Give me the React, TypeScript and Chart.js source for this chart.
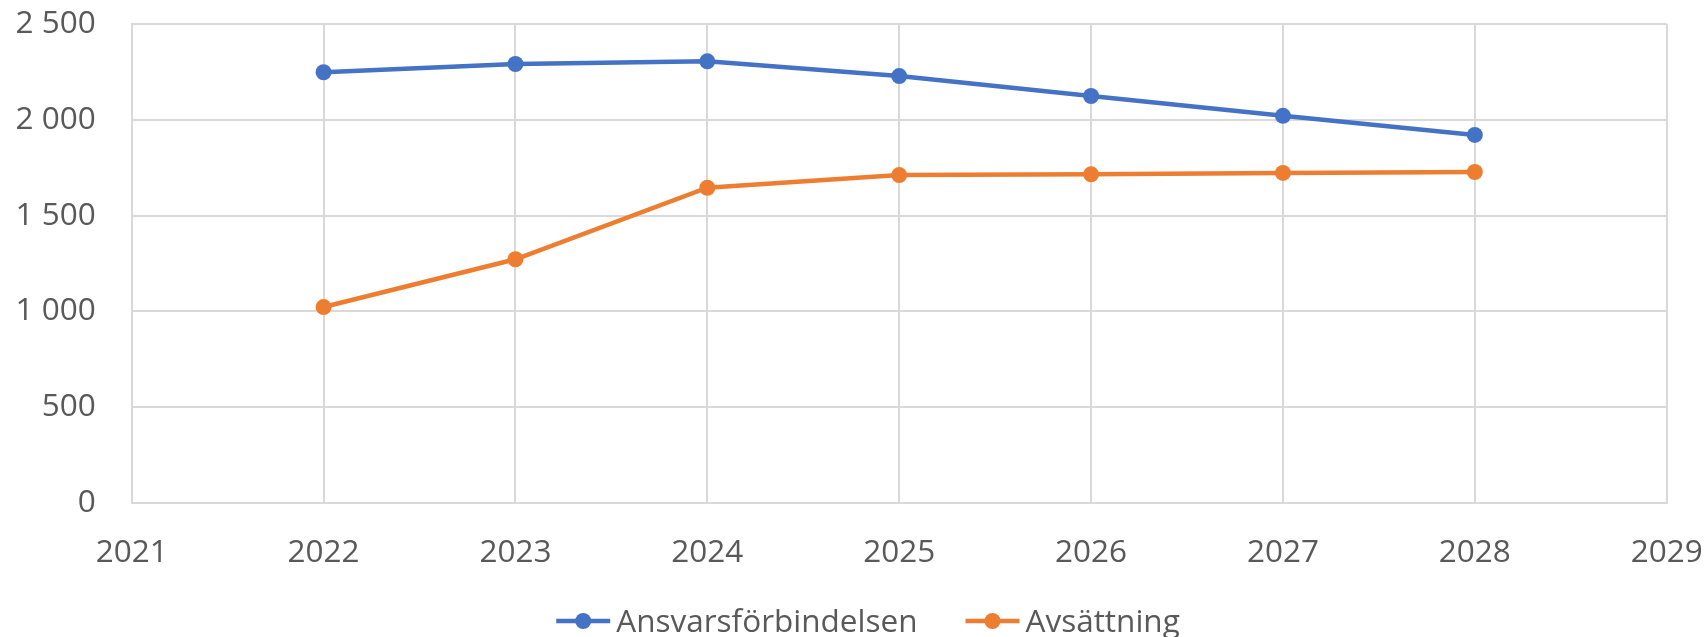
import React, { useEffect, useRef } from 'react';
import { Chart, registerables } from 'chart.js';

Chart.register(...registerables);

// ---- data ----
const years = [2022, 2023, 2024, 2025, 2026, 2027, 2028];
const ansvarsforbindelsen = [2247, 2290, 2304, 2227, 2123, 2020, 1920];
const avsattning = [1023, 1272, 1645, 1711, 1715, 1722, 1727];
const seriesNames = ['Ansvarsförbindelsen', 'Avsättning'];
const seriesColors = ['#4472C4', '#ED7D31'];
const xMin = 2021;
const xMax = 2029;
const yMin = 0;
const yMax = 2500;
const yStep = 500;

// ---- style ----
const FONT = "'Open Sans', sans-serif";
const FONT_SIZE = 31.5;
const TEXT_COLOR = '#595959';
const GRID_COLOR = '#d9d9d9';
const LEGEND_CX = 868;
const LEGEND_CY = 621;

const fmt = (v: number) => String(v).replace(/\B(?=(\d{3})+(?!\d))/g, ' ');

const legendPlugin = {
  id: 'customLegend',
  afterDraw(chart: any) {
    const ctx = chart.ctx as CanvasRenderingContext2D;
    ctx.save();
    ctx.font = `${FONT_SIZE}px ${FONT}`;
    const items = chart.data.datasets.map((ds: any) => ({
      label: ds.label as string,
      color: ds.borderColor as string,
      w: ctx.measureText(ds.label).width,
    }));
    const sym = 54;
    const gapText = 6;
    const gapItem = 48;
    const total =
      items.reduce((s: number, it: any) => s + sym + gapText + it.w, 0) + gapItem * (items.length - 1);
    let x = LEGEND_CX - total / 2;
    const y = LEGEND_CY;
    for (const it of items) {
      ctx.strokeStyle = it.color;
      ctx.lineWidth = 4.5;
      ctx.beginPath();
      ctx.moveTo(x, y);
      ctx.lineTo(x + sym, y);
      ctx.stroke();
      ctx.fillStyle = it.color;
      ctx.beginPath();
      ctx.arc(x + sym / 2, y, 8, 0, Math.PI * 2);
      ctx.fill();
      ctx.fillStyle = TEXT_COLOR;
      ctx.textAlign = 'left';
      ctx.textBaseline = 'middle';
      ctx.fillText(it.label, x + sym + gapText, y + 2);
      x += sym + gapText + it.w + gapItem;
    }
    ctx.restore();
  },
};

const zeroPad = (s: any) => {
  s.paddingTop = 0;
  s.paddingBottom = 0;
  s.paddingLeft = 0;
  s.paddingRight = 0;
};

export default function App() {
  const ref = useRef<HTMLCanvasElement | null>(null);

  useEffect(() => {
    if (!ref.current) return;
    const seriesValues = [ansvarsforbindelsen, avsattning];
    const chart = new Chart(ref.current, {
      type: 'line',
      data: {
        datasets: seriesValues.map((vals, i) => ({
          label: seriesNames[i],
          data: years.map((yr, j) => ({ x: yr, y: vals[j] })),
          borderColor: seriesColors[i],
          backgroundColor: seriesColors[i],
          pointBackgroundColor: seriesColors[i],
          pointBorderColor: seriesColors[i],
          borderWidth: 4.5,
          pointRadius: 8,
          pointBorderWidth: 0,
          tension: 0,
          fill: false,
        })),
      },
      options: {
        responsive: false,
        animation: false,
        devicePixelRatio: 1,
        layout: { padding: { top: 23.7, right: 41.3, bottom: 0, left: 0 } },
        plugins: {
          legend: { display: false },
          tooltip: { enabled: false },
        },
        scales: {
          x: {
            type: 'linear',
            min: xMin,
            max: xMax,
            afterFit: (s: any) => {
              s.height = 133.7;
              zeroPad(s);
            },
            ticks: {
              stepSize: 1,
              color: TEXT_COLOR,
              font: { family: FONT, size: FONT_SIZE },
              padding: 31,
              maxRotation: 0,
              callback: (v: any) => String(v),
            },
            grid: { color: GRID_COLOR, lineWidth: 2, drawTicks: false },
            border: { color: GRID_COLOR, width: 2 },
          },
          y: {
            min: yMin,
            max: yMax,
            afterFit: (s: any) => {
              s.width = 131.7;
              zeroPad(s);
            },
            ticks: {
              stepSize: yStep,
              color: TEXT_COLOR,
              font: { family: FONT, size: FONT_SIZE },
              padding: 36,
              callback: (v: any) => fmt(Number(v)),
            },
            grid: { color: GRID_COLOR, lineWidth: 2, drawTicks: false },
            border: { color: GRID_COLOR, width: 2 },
          },
        },
      },
      plugins: [legendPlugin],
    });
    return () => chart.destroy();
  }, []);

  return (
    <div style={{ position: 'fixed', left: 0, top: 0, width: 1708, height: 637, background: '#fff' }}>
      <canvas ref={ref} width={1708} height={637} style={{ display: 'block' }} />
    </div>
  );
}
